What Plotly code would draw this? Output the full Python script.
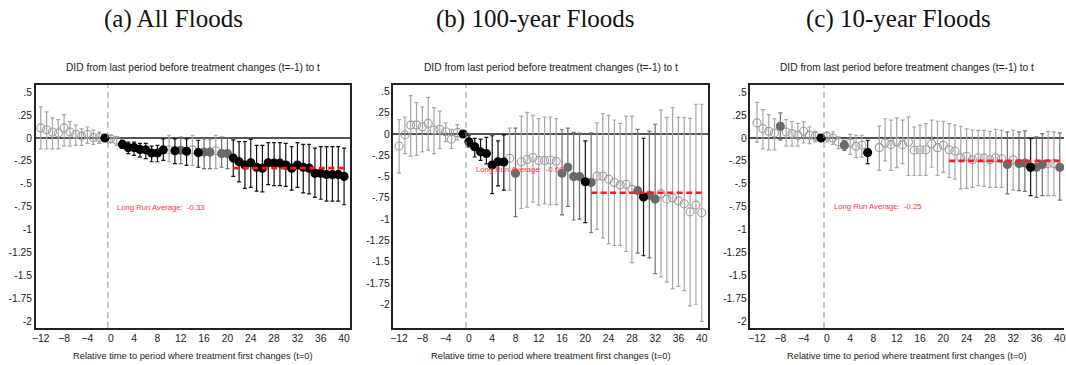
import plotly.graph_objects as go

# Event time relative to the first treatment change
t = list(range(-12, 41))

# ---- (a) All Floods ----
a_est = [0.11, 0.09, 0.065, 0.055, 0.11, 0.065, 0.04, 0.02, 0.04, 0.005, 0.005, 0.0,
         -0.01, -0.025, -0.07, -0.105, -0.105, -0.125, -0.13, -0.165, -0.165, -0.13, -0.128, -0.14,
         -0.135, -0.145, -0.13, -0.16, -0.155, -0.155, -0.14, -0.17, -0.17, -0.22, -0.26, -0.295,
         -0.27, -0.32, -0.33, -0.27, -0.275, -0.275, -0.295, -0.33, -0.295, -0.32, -0.33, -0.385,
         -0.385, -0.40, -0.40, -0.40, -0.42]
a_hi = [0.34, 0.285, 0.22, 0.20, 0.255, 0.18, 0.14, 0.10, 0.12, 0.085, 0.065, 0.0,
        0.03, 0.01, -0.025, -0.045, -0.045, -0.06, -0.06, -0.09, -0.08, -0.01, 0.03, -0.01,
        0.01, -0.01, 0.03, -0.025, -0.01, -0.01, 0.03, 0.01, 0.005, -0.02, -0.04, -0.04,
        -0.015, -0.08, -0.08, -0.05, -0.05, -0.05, -0.06, -0.095, -0.05, -0.07, -0.07, -0.11,
        -0.095, -0.095, -0.095, -0.095, -0.11]
a_lo = [-0.12, -0.12, -0.12, -0.12, -0.09, -0.09, -0.08, -0.08, -0.06, -0.07, -0.06, 0.0,
        -0.045, -0.08, -0.115, -0.17, -0.19, -0.21, -0.225, -0.26, -0.26, -0.245, -0.26, -0.28,
        -0.28, -0.30, -0.30, -0.32, -0.335, -0.335, -0.335, -0.32, -0.335, -0.42, -0.48, -0.55,
        -0.54, -0.58, -0.59, -0.51, -0.52, -0.52, -0.53, -0.57, -0.54, -0.60, -0.61, -0.65,
        -0.67, -0.69, -0.69, -0.69, -0.73]
a_sig = list("hhhhhhhhhhhb" "hhbbbbbbbbhb" "gbhbgghgg" "bbbbbbbbbbbbbbbbbbbb")
a_avg = -0.33

# ---- (b) 100-year Floods ----
b_est = [-0.14, -0.01, 0.105, 0.105, 0.085, 0.125, 0.047, 0.055, 0.027, -0.06, 0.016, 0.0,
         -0.09, -0.15, -0.21, -0.23, -0.365, -0.325, -0.33, -0.285, -0.46, -0.325, -0.30, -0.275,
         -0.31, -0.31, -0.305, -0.32, -0.46, -0.39, -0.50, -0.50, -0.56, -0.57, -0.495, -0.495,
         -0.53, -0.57, -0.60, -0.59, -0.65, -0.665, -0.74, -0.72, -0.765, -0.70, -0.765, -0.75,
         -0.785, -0.82, -0.915, -0.835, -0.925]
b_hi = [0.17, 0.20, 0.45, 0.37, 0.32, 0.43, 0.31, 0.27, 0.13, 0.055, 0.11, 0.0,
        -0.02, -0.05, -0.06, -0.04, -0.02, -0.08, -0.01, 0.07, 0.07, 0.21, 0.255, 0.22,
        0.18, 0.20, 0.20, 0.18, 0.05, 0.07, 0.02, 0.01, -0.08, 0.015, 0.13, 0.24,
        0.22, 0.165, 0.125, 0.21, 0.21, 0.055, -0.05, 0.035, 0.115, 0.28, 0.195, 0.31,
        0.195, 0.195, 0.185, 0.35, 0.35]
b_lo = [-0.46, -0.23, -0.26, -0.25, -0.21, -0.19, -0.23, -0.17, -0.09, -0.17, -0.07, 0.0,
        -0.15, -0.27, -0.31, -0.35, -0.70, -0.61, -0.66, -0.66, -0.97, -0.875, -0.86, -0.80,
        -0.835, -0.82, -0.83, -0.83, -0.95, -0.85, -1.01, -1.00, -1.04, -1.16, -1.12, -1.22,
        -1.29, -1.31, -1.31, -1.38, -1.51, -1.40, -1.43, -1.455, -1.64, -1.68, -1.74, -1.82,
        -1.79, -1.84, -2.02, -2.00, -2.20]
b_sig = list("hhhhhhhhhhhb" "bbbbbbbhg" "hhhhhhh" "ggggbg" "hhhhhhh" "gbgg" "hhhhhhhh")
b_avg = -0.69

# ---- (c) 10-year Floods (no estimate at t=8) ----
c_est = [0.165, 0.10, 0.073, 0.055, 0.128, 0.066, 0.048, 0.03, 0.073, 0.03, 0.018, 0.0,
         0.018, 0.0, -0.044, -0.08, -0.055, -0.09, -0.08, -0.16, None, -0.105, -0.055, -0.073,
         -0.044, -0.073, -0.044, -0.135, -0.128, -0.128, -0.062, -0.106, -0.08, -0.128, -0.143, -0.216,
         -0.20, -0.238, -0.216, -0.22, -0.238, -0.216, -0.227, -0.29, -0.238, -0.28, -0.275, -0.32,
         -0.32, -0.29, -0.28, -0.28, -0.32]
c_hi = [0.39, 0.31, 0.255, 0.21, 0.275, 0.20, 0.18, 0.16, 0.175, 0.12, 0.073, 0.0,
        0.066, 0.066, 0.011, -0.026, 0.04, 0.03, 0.03, -0.026, None, 0.13, 0.21, 0.195,
        0.22, 0.195, 0.23, 0.12, 0.14, 0.157, 0.194, 0.183, 0.183, 0.157, 0.14, 0.128,
        0.10, 0.09, 0.084, 0.084, 0.073, 0.095, 0.084, 0.066, 0.084, 0.066, 0.077, -0.007,
        0.011, 0.048, 0.073, 0.066, 0.055]
c_lo = [-0.045, -0.12, -0.13, -0.13, -0.02, -0.09, -0.09, -0.09, -0.055, -0.062, -0.044, 0.0,
        -0.044, -0.07, -0.117, -0.135, -0.18, -0.215, -0.21, -0.28, None, -0.355, -0.25, -0.355,
        -0.325, -0.28, -0.41, -0.41, -0.41, -0.41, -0.32, -0.41, -0.375, -0.43, -0.45, -0.557,
        -0.55, -0.54, -0.52, -0.53, -0.54, -0.54, -0.54, -0.61, -0.57, -0.575, -0.583, -0.63,
        -0.65, -0.63, -0.63, -0.63, -0.68]
c_sig = list("hhhhghhhhhhb" "hhhghhhb-" "hhhhhhhhhhhhhhhhhhhhhh" "ghggbgghhg")
c_avg = -0.25

panel_titles = ["(a) All Floods", "(b) 100-year Floods", "(c) 10-year Floods"]
subtitle = "DID from last period before treatment changes (t=-1) to t"
xtitle = "Relative time to period where treatment first changes (t=0)"
x_ticks = list(range(-12, 41, 4))
y_ticks = [0.5, 0.25, 0, -0.25, -0.5, -0.75, -1, -1.25, -1.5, -1.75, -2]
y_tick_text = [".5", ".25", "0", "-.25", "-.5", "-.75", "-1", "-1.25", "-1.5", "-1.75", "-2"]

W, H = 1066, 365
SANS = "Liberation Sans, Arial, sans-serif"

# marker / bar styles by significance class
styles = {
    "h": dict(symbol="circle-open", mcol="#9c9c9c", bcol="#a6a6a6"),
    "g": dict(symbol="circle", mcol="#6a6a6a", bcol="#707070"),
    "b": dict(symbol="circle", mcol="#000000", bcol="#111111"),
}

panels = [
    dict(est=a_est, hi=a_hi, lo=a_lo, sig=a_sig, avg=a_avg,
         px=(32, 348), xr=[-12.85, 41.02], yr=[-2.077, 0.579], lab_y=-0.755, right=True),
    dict(est=b_est, hi=b_hi, lo=b_lo, sig=b_sig, avg=b_avg,
         px=(391.7, 708), xr=[-12.96, 41.08], yr=[-2.279, 0.576], lab_y=-0.415, right=True),
    dict(est=c_est, hi=c_hi, lo=c_lo, sig=c_sig, avg=c_avg,
         px=(750.7, 1066), xr=[-13.13, 40.73], yr=[-2.077, 0.579], lab_y=-0.75, right=False),
]
# text centres of each panel's headings (px)
text_centres = [190, 550, 908]

ydom = [1 - 328 / H, 1 - 85 / H]

fig = go.Figure()
annotations = []
shapes = []

for i, p in enumerate(panels):
    n = "" if i == 0 else str(i + 1)
    xa, ya = "x" + n, "y" + n
    xdom = [p["px"][0] / W, min(p["px"][1] / W, 1.0)]

    fig.update_layout(**{
        "xaxis" + n: dict(domain=xdom, range=p["xr"], anchor=ya,
                          tickvals=x_ticks, ticks="", showgrid=False, zeroline=False,
                          showline=True, linecolor="#222", linewidth=1.5, mirror=True,
                          ticklabeloverflow="allow",
                          tickfont=dict(family=SANS, size=10.3, color="#222")),
        "yaxis" + n: dict(domain=ydom, range=p["yr"], anchor=xa,
                          tickvals=y_ticks, ticktext=y_tick_text, ticks="",
                          showgrid=False, zeroline=True, zerolinecolor="#555",
                          zerolinewidth=1.5, showline=True, linecolor="#222",
                          linewidth=1.5, mirror=p["right"],
                          tickfont=dict(family=SANS, size=10.3, color="#222")),
    })

    # estimates with confidence intervals, one trace per significance class
    for key, st in styles.items():
        xs, ys, up, dn = [], [], [], []
        for tt, e, h, l, s in zip(t, p["est"], p["hi"], p["lo"], p["sig"]):
            if s == key and e is not None:
                xs.append(tt)
                ys.append(e)
                up.append(h - e)
                dn.append(e - l)
        fig.add_trace(go.Scatter(
            x=xs, y=ys, xaxis=xa, yaxis=ya, mode="markers", showlegend=False,
            marker=dict(symbol=st["symbol"], size=8, color=st["mcol"],
                        line=dict(color=st["mcol"], width=1.1)),
            error_y=dict(type="data", symmetric=False, array=up, arrayminus=dn,
                         color=st["bcol"], thickness=1.2, width=2),
        ))

    # long-run average over t = 21..40
    fig.add_trace(go.Scatter(
        x=[21, 40], y=[p["avg"], p["avg"]], xaxis=xa, yaxis=ya, mode="lines",
        showlegend=False, line=dict(color="#ff1a1a", width=2.6, dash="6px,3.5px"),
    ))

    # treatment onset marker
    shapes.append(dict(type="line", xref=xa, yref=ya + " domain", x0=-0.5, x1=-0.5,
                       y0=0, y1=1, line=dict(color="#9a9a9a", width=1.1, dash="6px,4px")))

    annotations.append(dict(x=0.8, y=p["lab_y"], xref=xa, yref=ya, xanchor="left",
                            yanchor="middle", showarrow=False,
                            text=f"Long Run Average:  {p['avg']:.2f}",
                            font=dict(family=SANS, size=7.7, color="#ff3030")))

    cx = text_centres[i] / W
    annotations.append(dict(x=cx, y=1 - 67 / H, xref="paper", yref="paper",
                            xanchor="center", yanchor="middle", showarrow=False,
                            text=subtitle, font=dict(family=SANS, size=10.2, color="#222")))
    annotations.append(dict(x=cx, y=1 - 356 / H, xref="paper", yref="paper",
                            xanchor="center", yanchor="middle", showarrow=False,
                            text=xtitle, font=dict(family=SANS, size=9.3, color="#222")))

# panel captions
for title, cxp in zip(panel_titles, [170, 535, 900]):
    annotations.append(dict(x=cxp / W, y=1 - 19 / H, xref="paper", yref="paper",
                            xanchor="center", yanchor="middle", showarrow=False,
                            text=title,
                            font=dict(family="Liberation Serif, DejaVu Serif, serif",
                                      size=25, color="#111")))

fig.update_layout(width=W, height=H, margin=dict(l=0, r=0, t=0, b=0),
                  plot_bgcolor="white", paper_bgcolor="white",
                  annotations=annotations, shapes=shapes)

fig.write_html("out.html")
